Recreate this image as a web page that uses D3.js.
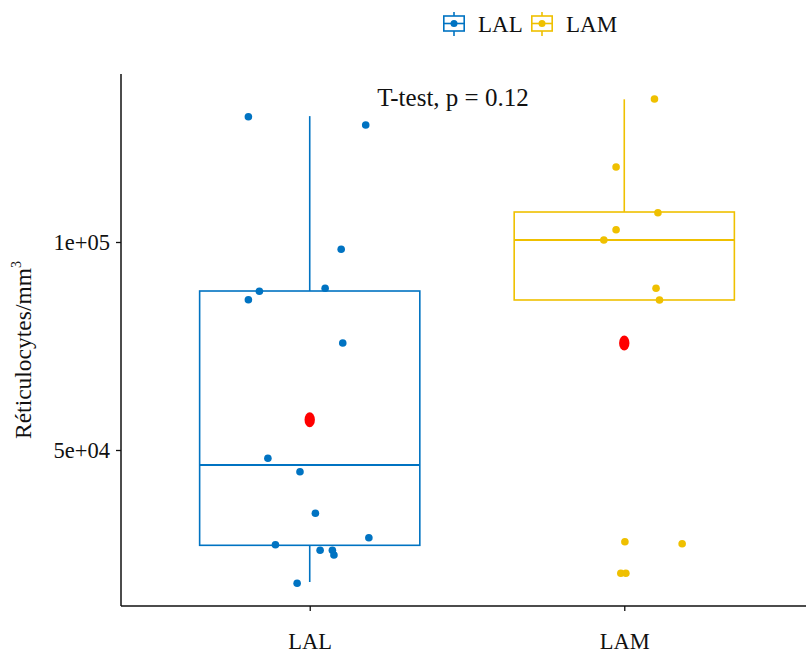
<!DOCTYPE html>
<html>
<head>
<meta charset="utf-8">
<script src="https://cdn.jsdelivr.net/npm/d3@7"></script>
<style>
  body { margin: 0; background: #fff; }
  text { font-family: "Liberation Serif", "Times New Roman", serif; }
</style>
</head>
<body>
<svg id="chart" width="806" height="656"></svg>
<script>
// groups and colours
var groups = ['LAL', 'LAM'];
var cols = ['#0073C2', '#EFC000'];

// box statistics
var whiskHi = [130260, 134300];
var q3 = [88220, 107210];
var median = [46390, 100480];
var q1 = [27090, 86060];
var whiskLo = [18270, 86060];
var means = [57280, 75720];

// jittered points: x offset from the group centre (category units) and value
var lalJit = [-0.195, 0.178, 0.100, 0.049, -0.160, -0.195, 0.105, -0.133, -0.031, 0.018, 0.188, -0.109, 0.033, 0.072, 0.077, -0.040];
var lalVal = [130120, 128125, 98245, 88870, 88149, 86130, 75721, 48005, 44784, 34784, 28918, 27236, 25890, 25890, 24760, 17957];
var lamJit = [0.096, -0.026, 0.107, -0.026, -0.065, 0.101, 0.112, 0.002, 0.184, -0.011, 0.005];
var lamVal = [134373, 118028, 107042, 102957, 100480, 88870, 86057, 27957, 27476, 20361, 20361];

var yTicks = [50000, 100000];
var yTickLabels = ['5e+04', '1e+05'];
var pLabel = 'T-test, p = 0.12';

var svg = d3.select('#chart');

var x = d3.scaleLinear().domain([0.4, 2.6]).range([121, 813]);
var y = d3.scaleLinear().domain([12500, 140385]).range([606, 74]);
var boxW = 0.7;

// axes
var gx = svg.append('g').attr('transform', 'translate(0,606)')
  .call(d3.axisBottom(x).tickValues([1, 2]).tickFormat(function(d){ return groups[d-1]; }).tickSize(5).tickPadding(22));
var gy = svg.append('g').attr('transform', 'translate(121,0)')
  .call(d3.axisLeft(y).tickValues(yTicks).tickFormat(function(d, i){ return yTickLabels[i]; }).tickSize(5).tickPadding(6));

gx.select('.domain').attr('d', 'M121,0H806').attr('stroke', '#111').attr('stroke-width', 1.5);
gy.select('.domain').attr('d', 'M0,606V74').attr('stroke', '#111').attr('stroke-width', 1.5);
svg.selectAll('.tick line').attr('stroke', '#111').attr('stroke-width', 1.3);
svg.selectAll('.tick text').attr('font-size', 22.5).attr('fill', '#111')
  .style('font-family', '"Liberation Serif", serif');

// boxplots
groups.forEach(function(g, i){
  var cx = i + 1;
  var bg = svg.append('g').attr('stroke', cols[i]).attr('stroke-width', 1.6).attr('fill', 'none');
  bg.append('line').attr('x1', x(cx)).attr('x2', x(cx)).attr('y1', y(whiskHi[i])).attr('y2', y(q3[i]));
  bg.append('line').attr('x1', x(cx)).attr('x2', x(cx)).attr('y1', y(q1[i])).attr('y2', y(whiskLo[i]));
  bg.append('rect')
    .attr('x', x(cx - boxW/2)).attr('width', x(cx + boxW/2) - x(cx - boxW/2))
    .attr('y', y(q3[i])).attr('height', y(q1[i]) - y(q3[i]))
    .attr('fill', '#fff');
  bg.append('line').attr('x1', x(cx - boxW/2)).attr('x2', x(cx + boxW/2))
    .attr('y1', y(median[i])).attr('y2', y(median[i])).attr('stroke-width', 2.2);
});

// jitter points
var pts = [
  {jit: lalJit, val: lalVal, g: 0},
  {jit: lamJit, val: lamVal, g: 1}
];
pts.forEach(function(p){
  svg.append('g').selectAll('circle')
    .data(p.val)
    .enter().append('circle')
    .attr('cx', function(d, j){ return x(p.g + 1 + p.jit[j]); })
    .attr('cy', function(d){ return y(d); })
    .attr('r', 3.8)
    .attr('fill', cols[p.g]);
});

// means
svg.append('g').selectAll('ellipse')
  .data(means)
  .enter().append('ellipse')
  .attr('cx', function(d, i){ return x(i + 1); })
  .attr('cy', function(d){ return y(d); })
  .attr('rx', 5.2).attr('ry', 7.5)
  .attr('fill', '#FF0000');

// p value label
svg.append('text')
  .attr('x', 453).attr('y', 106)
  .attr('text-anchor', 'middle')
  .attr('font-size', 25).attr('fill', '#111')
  .text(pLabel);

// y title
svg.append('text')
  .attr('transform', 'translate(31,350) rotate(-90)')
  .attr('text-anchor', 'middle')
  .attr('font-size', 23.5).attr('fill', '#111')
  .text('Réticulocytes/mm')
  .append('tspan').attr('font-size', 14).attr('dy', -10).text('3');

// legend
var legX = [443, 531];
var leg = svg.append('g');
groups.forEach(function(g, i){
  var lg = leg.append('g').attr('transform', 'translate(' + legX[i] + ',0)');
  lg.append('line').attr('x1', 11).attr('x2', 11).attr('y1', 12).attr('y2', 36)
    .attr('stroke', cols[i]).attr('stroke-width', 1.6);
  lg.append('rect').attr('x', 0.8).attr('y', 16).attr('width', 20.4).attr('height', 15)
    .attr('fill', '#fff').attr('stroke', cols[i]).attr('stroke-width', 1.6);
  lg.append('line').attr('x1', 0.8).attr('x2', 21.2).attr('y1', 23.5).attr('y2', 23.5)
    .attr('stroke', cols[i]).attr('stroke-width', 1.6);
  lg.append('circle').attr('cx', 11).attr('cy', 23.5).attr('r', 3.5).attr('fill', cols[i]);
  lg.append('text').attr('x', 35).attr('y', 32).attr('font-size', 23).attr('fill', '#111').text(g);
});
</script>
</body>
</html>
